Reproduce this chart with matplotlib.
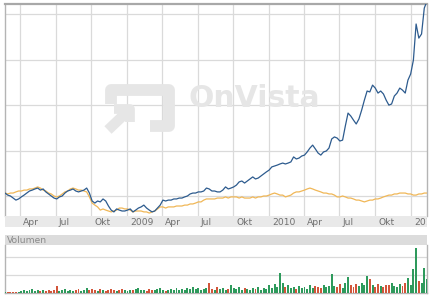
import matplotlib
matplotlib.use('Agg')
import matplotlib.pyplot as plt
import matplotlib.transforms as mtransforms
from matplotlib.lines import Line2D
import numpy as np
import pandas as pd

# ---------------- data ----------------
dates = pd.date_range('2008-02-22', periods=156, freq='7D')

stock = [21.3,20.4,20.0,19.1,18.2,18.7,19.6,20.4,21.3,22.2,
         22.6,23.1,23.5,22.6,23.1,21.8,20.9,20.0,19.1,18.7,
         19.6,20.0,21.3,22.2,22.6,23.1,22.2,21.8,22.2,22.6,
         23.5,21.3,17.8,16.9,17.8,17.4,18.7,17.8,15.6,13.8,
         13.0,14.3,13.8,13.4,13.4,13.8,14.3,13.0,13.8,14.7,
         15.2,16.0,14.7,13.8,13.0,13.4,14.7,16.0,18.2,17.8,
         18.2,18.2,18.7,18.7,19.1,19.1,19.6,20.0,20.9,21.3,
         21.3,21.8,21.8,22.2,23.5,23.1,22.2,22.2,21.8,21.8,
         22.6,24.0,23.1,23.5,24.0,24.8,26.2,26.6,25.7,26.6,
         27.5,28.4,27.5,27.9,28.8,29.7,30.6,31.4,32.8,33.2,
         33.6,34.1,34.5,34.1,34.5,35.0,37.2,36.3,36.7,37.6,
         38.0,39.4,41.1,42.4,40.7,38.9,38.0,39.4,39.8,41.1,
         45.1,46.0,45.5,44.2,44.6,50.8,56.5,55.2,53.4,51.7,
         53.9,57.8,62.2,66.2,65.8,68.8,67.5,65.3,66.2,64.9,
         62.2,60.0,60.5,64.0,65.3,67.5,66.6,65.3,71.0,73.7,
         79.8,95.7,89.5,91.3,102.7,105.8]

index_line = [21.3,20.9,21.3,21.3,21.8,22.2,22.2,22.6,22.6,23.1,
              23.1,23.5,24.0,23.5,22.6,22.2,21.3,20.9,20.0,19.6,
              20.0,20.9,21.8,22.2,23.1,23.5,23.1,22.6,22.6,22.2,
              21.8,19.6,16.9,16.0,15.2,13.8,14.3,13.8,13.4,13.0,
              13.4,13.8,14.7,14.7,14.3,14.3,13.8,13.0,13.4,13.4,
              13.4,13.0,13.0,12.5,13.0,13.4,14.3,15.2,15.2,14.7,
              15.2,15.2,15.2,15.6,15.6,15.6,16.0,16.0,16.5,16.5,
              16.9,17.4,17.4,18.2,18.7,18.7,18.7,18.7,19.1,19.1,
              19.1,19.6,19.1,19.6,19.6,19.6,19.1,19.6,19.1,19.1,
              19.1,19.6,19.1,19.6,19.6,20.0,20.0,20.4,20.9,21.3,
              20.9,20.4,20.4,19.6,20.0,20.4,21.3,21.8,21.8,22.2,
              22.6,23.1,23.5,23.1,22.6,22.2,21.8,21.3,21.3,20.9,
              20.9,20.4,19.6,19.6,20.0,19.6,19.1,19.1,18.7,18.2,
              18.2,17.8,17.4,17.8,18.2,18.2,18.7,18.7,19.1,19.6,
              20.0,20.4,20.4,20.9,20.9,21.3,21.3,21.3,20.9,20.9,
              20.4,20.4,20.9,20.9,21.3,21.3]

volume = [10,10,10,10,10,10,20,30,20,30,
          40,20,30,20,30,20,30,20,30,70,
          20,30,40,20,30,20,30,40,20,30,
          50,30,40,30,20,40,30,20,30,40,
          30,20,30,40,30,20,30,30,40,50,
          30,30,20,40,30,30,40,50,30,20,
          30,40,30,50,30,40,30,50,40,60,
          40,50,30,40,50,100,40,30,60,40,
          50,30,40,80,50,40,60,30,50,40,
          30,50,40,60,30,50,40,80,50,90,
          60,200,100,60,80,50,60,40,70,50,
          60,40,80,50,70,60,50,80,60,70,
          190,70,60,90,50,100,160,80,60,90,
          70,100,80,170,140,80,60,90,70,60,
          80,80,100,70,60,90,70,100,150,80,
          240,450,120,100,250,140]

tick_dates = pd.date_range('2008-04-01', '2011-01-01', freq='QS')
tick_labels = ['Apr', 'Jul', 'Okt', '2009', 'Apr', 'Jul', 'Okt', '2010',
               'Apr', 'Jul', 'Okt', '2011']
price_grid = [20, 40, 60, 80, 100]
volume_grid = [180, 360]

# ---------------- layout ----------------
W, H = 430, 296
fig = plt.figure(figsize=(W / 100, H / 100), dpi=100)


def rect(l, t, r, b):
    return [l / W, 1 - b / H, (r - l) / W, (b - t) / H]


xmin, xmax = pd.Timestamp('2008-02-22'), pd.Timestamp('2011-02-11')
GRID = '#dadada'
BORDER = '#b4b4b4'

ax = fig.add_axes(rect(5, 4, 427, 216))
ax.set_xlim(xmin, xmax)
ax.set_ylim(11.2, 104.5)
ax.set_xticks(tick_dates)
ax.set_yticks(price_grid)
ax.tick_params(length=0, labelbottom=False, labelleft=False)
ax.grid(True, color=GRID, lw=0.9)
ax.set_axisbelow(True)
for s in ['left', 'right']:
    ax.spines[s].set_color(BORDER)
    ax.spines[s].set_linewidth(1.0)
ax.spines['top'].set_color('#a8a8a8')
ax.spines['top'].set_linewidth(1.6)
ax.spines['bottom'].set_visible(False)

# watermark
WM = '#e6e6e6'
tr = ax.transAxes


def ap(px, py):
    return ((px - 5) / 422, (216 - py) / 212)


def wline(pts, lw, cap='butt'):
    xs, ys = zip(*[ap(*p) for p in pts])
    ax.add_line(Line2D(xs, ys, transform=tr, color=WM, lw=lw,
                       solid_capstyle=cap, solid_joinstyle='round', zorder=1))


wline([(111, 104), (111, 90), (169, 90), (169, 126), (150, 126)], 8.5)
wline([(108, 130), (128, 111)], 7.5)
wline([(114, 109), (130, 109), (130, 122)], 7.0)
ax.text(*ap(189, 107), 'OnVista', transform=tr, fontsize=21.5,
        fontweight='bold', color=WM, ha='left', va='baseline', zorder=1,
        family='DejaVu Sans')

ax.plot(dates, index_line, color='#f0b757', lw=0.9, zorder=3)
ax.plot(dates, stock, color='#2d5b8e', lw=0.9, zorder=4)

# tick label band
band = fig.add_axes(rect(5, 216, 427, 227))
band.set_xlim(xmin, xmax)
band.set_ylim(0, 1)
band.set_facecolor('#e9e9e9')
band.set_xticks([])
band.set_yticks([])
for s in band.spines.values():
    s.set_visible(False)
off = mtransforms.ScaledTranslation(3 / 100, 0, fig.dpi_scale_trans)
for d, lab in zip(tick_dates, tick_labels):
    band.text(d, 0.45, lab, transform=band.transData + off, fontsize=6.6,
              color='#707070', ha='left', va='center', clip_on=True)

# Volumen header band
vb = fig.add_axes(rect(5, 235, 427, 245))
vb.set_facecolor('#dcdcdc')
vb.set_xticks([])
vb.set_yticks([])
for s in vb.spines.values():
    s.set_visible(False)
vb.text(0.005, 0.45, 'Volumen', transform=vb.transAxes, fontsize=6.6,
        color='#8a8a8a', ha='left', va='center')

# volume panel
axv = fig.add_axes(rect(5, 245, 427, 293))
axv.set_xlim(xmin, xmax)
axv.set_ylim(0, 480)
axv.set_yticks(volume_grid)
axv.set_xticks([])
axv.tick_params(length=0, labelleft=False)
axv.grid(True, axis='y', color=GRID, lw=0.9)
axv.set_axisbelow(True)
axv.spines['top'].set_visible(False)
for s in ['left', 'right', 'bottom']:
    axv.spines[s].set_color(BORDER)
    axv.spines[s].set_linewidth(1.0)

st = np.array(stock)
up = np.concatenate([[True], st[1:] >= st[:-1]])
colors = np.where(up, '#2e9a5c', '#d2553a')
axv.bar(dates, volume, width=5, color=colors, align='center', zorder=3)

fig.savefig('out.png', dpi=100)
